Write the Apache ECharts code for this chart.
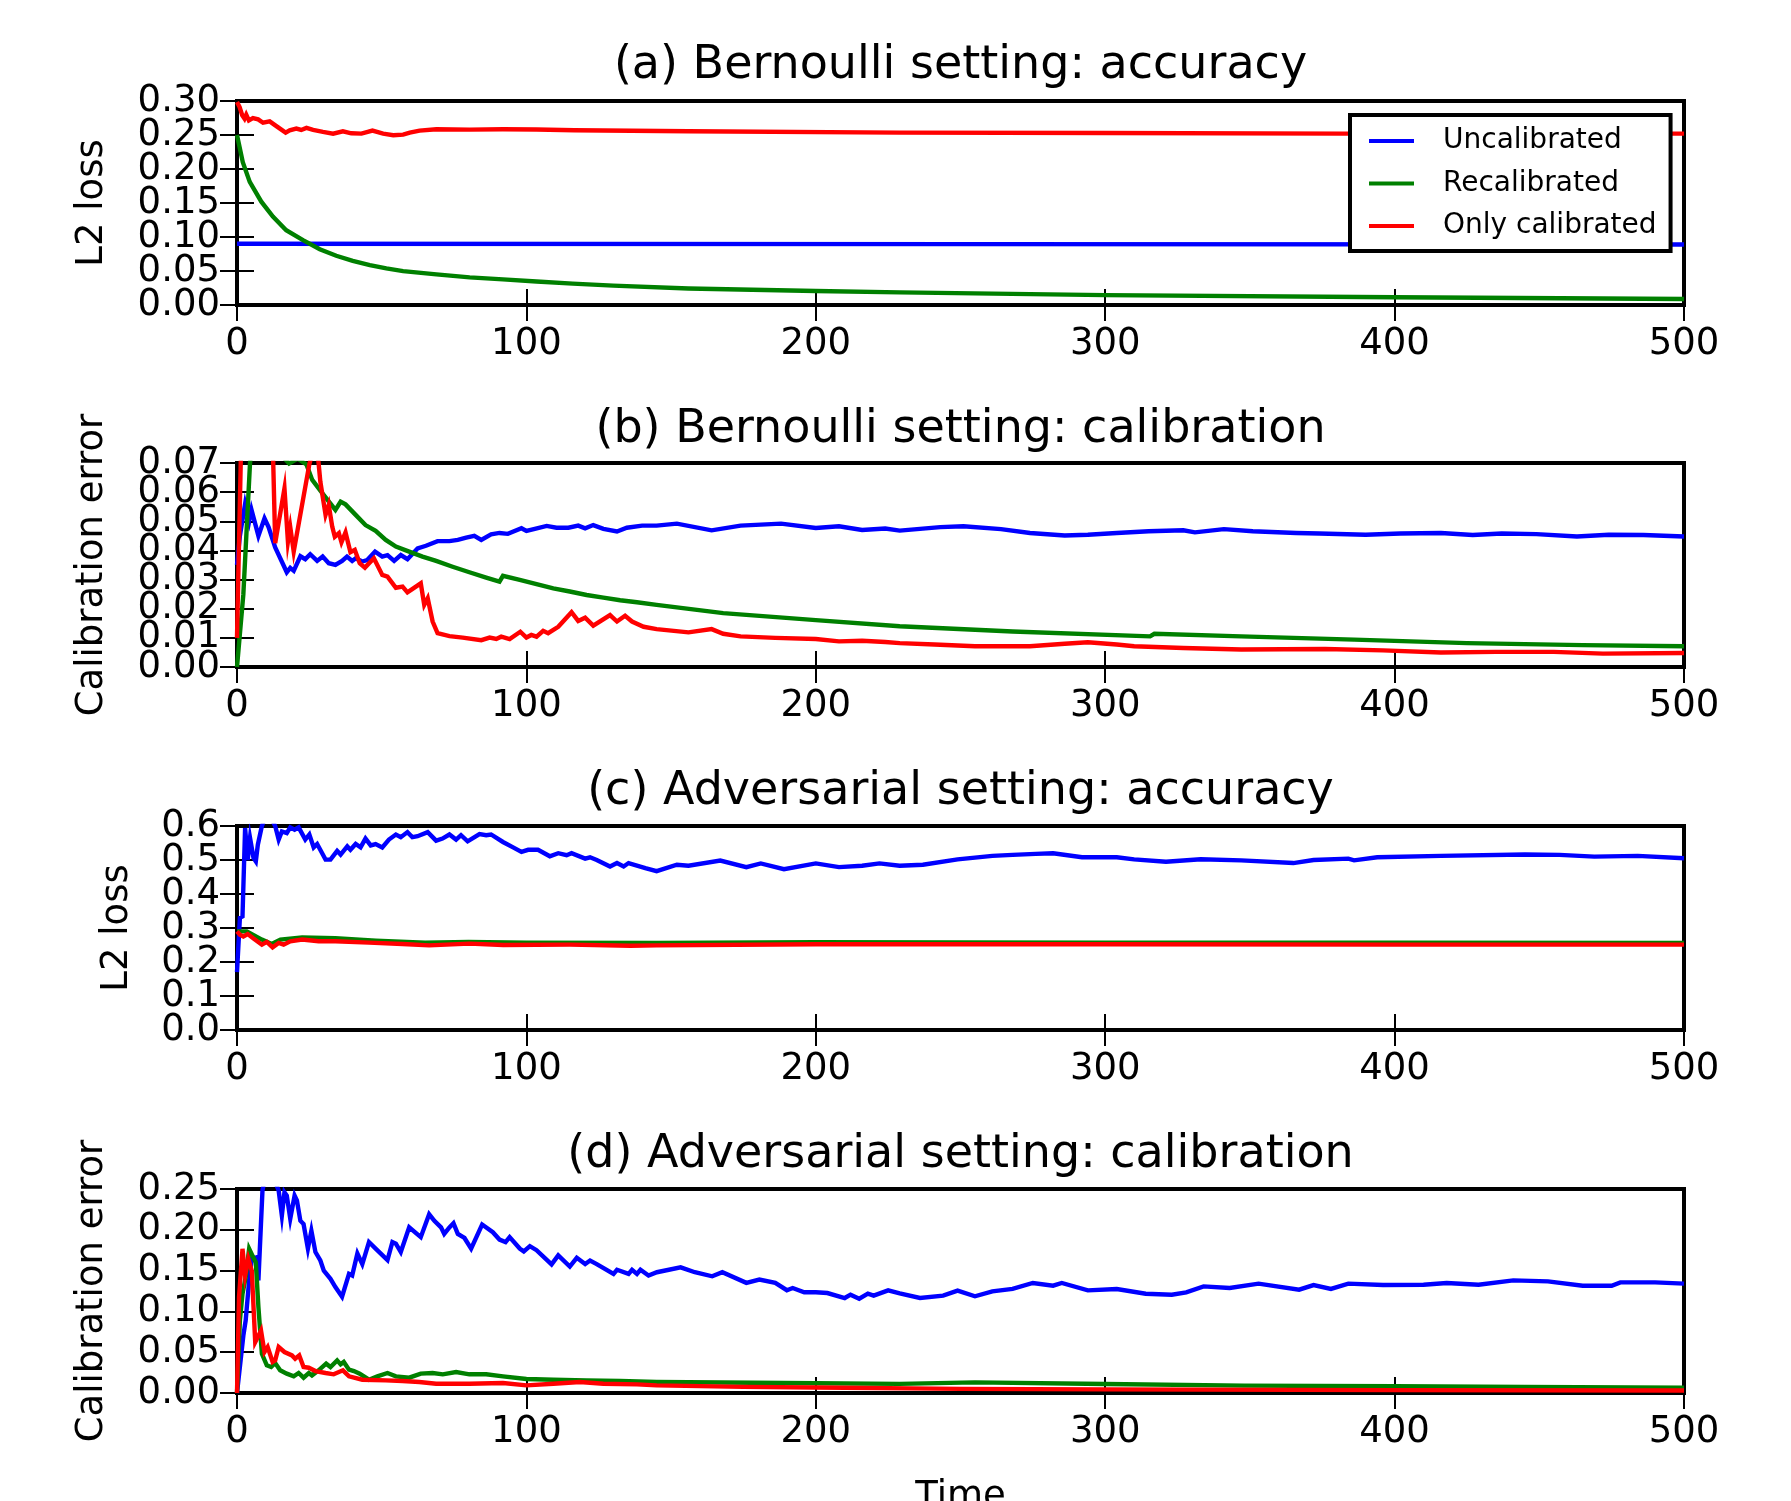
<!DOCTYPE html>
<html>
<head>
<meta charset="utf-8">
<script src="https://cdn.jsdelivr.net/npm/echarts@6/dist/echarts.min.js"></script>
<style>
  html, body { margin: 0; padding: 0; background: #fff; }
  #chart { width: 1791px; height: 1501px; }
</style>
</head>
<body>
<div id="chart"></div>
<script>
const FONT = 'DejaVu Sans'
const NAMES = ['Uncalibrated', 'Recalibrated', 'Only calibrated']
const COLORS = ['#0000ff', '#008000', '#ff0000']

const TITLES = [
  '(a) Bernoulli setting: accuracy',
  '(b) Bernoulli setting: calibration',
  '(c) Adversarial setting: accuracy',
  '(d) Adversarial setting: calibration',
]
const Y_NAMES = ['L2 loss', 'Calibration error', 'L2 loss', 'Calibration error']
const Y_MAX = [0.3, 0.07, 0.6, 0.25]
const Y_STEP = [0.05, 0.01, 0.1, 0.05]
const Y_DIGITS = [2, 2, 1, 2]
const X_MAX = 500
const X_STEP = 100

// (a) Bernoulli setting: accuracy  -- [time, L2 loss]
const bernAccUncal = [[0, 0.09], [250, 0.0895], [500, 0.089]]
const bernAccRecal = [
  [0, 0.25], [2, 0.21], [4.4, 0.181], [8.4, 0.152], [12.4, 0.13], [17, 0.11], [22.8, 0.0954],
  [28.6, 0.082], [34.3, 0.0724], [40, 0.065], [45.9, 0.0587], [51.6, 0.0538], [57.4, 0.0499],
  [68.9, 0.045], [80.4, 0.0406], [91.9, 0.0377], [103.5, 0.0345], [116, 0.0315], [130, 0.0285],
  [156, 0.0242], [200, 0.0206], [229, 0.0186], [300, 0.0145], [400, 0.0113], [500, 0.0088],
]
const bernAccOnly = [
  [0, 0.2985], [0.9, 0.291], [1.8, 0.279], [2.6, 0.274], [3.2, 0.28], [4.1, 0.2716], [5.5, 0.275],
  [7.3, 0.273], [9, 0.268], [11.3, 0.27], [13.6, 0.263], [16.8, 0.2535], [18.2, 0.257],
  [20.5, 0.2594], [22.2, 0.2574], [24, 0.2604], [26.3, 0.2574], [29.7, 0.2545], [33.2, 0.252],
  [36.6, 0.2555], [39.5, 0.2525], [43, 0.252], [46.8, 0.2564], [50.5, 0.252], [54, 0.2496],
  [57.4, 0.2505], [59.7, 0.2535], [63.1, 0.2564], [68.9, 0.2584], [80.4, 0.2579], [91.9, 0.2584],
  [103.5, 0.258], [116.6, 0.257], [156, 0.2555], [229, 0.2535], [300, 0.253], [382, 0.252],
  [500, 0.252],
]

// (b) Bernoulli setting: calibration  -- [time, calibration error]
const bernCalUncal = [
  [0, 0.035], [1, 0.045], [2.8, 0.056], [4.2, 0.05], [5, 0.054], [7.4, 0.045], [9.5, 0.051],
  [10.9, 0.048], [13.2, 0.041], [17.2, 0.0325], [18.4, 0.034], [19.6, 0.033], [21.9, 0.038],
  [23.6, 0.037], [25.3, 0.0387], [27.7, 0.0364], [29.6, 0.0379], [31.7, 0.0356], [34, 0.035],
  [36.3, 0.0364], [38, 0.0379], [39.8, 0.0364], [41, 0.0373], [43.3, 0.0362], [45, 0.0367],
  [47.7, 0.0396], [50.2, 0.0379], [52, 0.0384], [54.3, 0.0364], [56.6, 0.0384], [58.9, 0.037],
  [62.4, 0.0407], [65.3, 0.0416], [69.3, 0.0432], [73.4, 0.0432], [76.3, 0.0436], [79.2, 0.0444],
  [82, 0.045], [84.4, 0.0436], [87.8, 0.0455], [90.7, 0.046], [93.6, 0.0457], [98.3, 0.0476],
  [100, 0.0467], [102.9, 0.0474], [107, 0.0484], [110.4, 0.0478], [114.5, 0.0478], [117.9, 0.0485],
  [120.3, 0.0476], [123.1, 0.0487], [126.6, 0.0474], [131.3, 0.0465], [134.7, 0.0478], [140, 0.0485],
  [145, 0.0485], [152, 0.0492], [164, 0.0469], [174, 0.0485], [188, 0.0492], [200, 0.0477],
  [208, 0.0483], [216, 0.047], [224, 0.0475], [229, 0.0468], [243, 0.048], [251, 0.0483],
  [264, 0.0473], [274, 0.046], [286, 0.0451], [294, 0.0454], [304, 0.046], [315, 0.0466],
  [327, 0.0469], [331, 0.0462], [341, 0.0473], [351, 0.0466], [366, 0.046], [374, 0.0458],
  [390, 0.0454], [402, 0.0458], [416, 0.046], [427, 0.0453], [437, 0.0458], [449, 0.0456],
  [463, 0.0448], [474, 0.0454], [486, 0.0453], [500, 0.0448],
]
const bernCalRecal = [
  [0, 0], [0.5, 0], [2.2, 0.025], [4.5, 0.07], [7, 0.09], [12, 0.08], [16, 0.072], [18, 0.0698],
  [21, 0.0715], [24, 0.0695], [26, 0.0642], [30, 0.059], [34, 0.0539], [35.8, 0.0567],
  [37.5, 0.0558], [41, 0.0522], [44.4, 0.0487], [47.9, 0.0467], [51.4, 0.0436], [54.9, 0.0413],
  [59.5, 0.0396], [64.1, 0.0379], [68.8, 0.0364], [74.5, 0.0344], [80.3, 0.0325], [86.1, 0.0307],
  [90.7, 0.0293], [91.9, 0.0313], [97.7, 0.0299], [103.5, 0.0284], [109.3, 0.027], [115, 0.0259],
  [120.8, 0.0247], [126.6, 0.0238], [132.4, 0.0229], [138.2, 0.0222], [145, 0.0213], [168, 0.0185],
  [200, 0.0161], [229, 0.014], [268, 0.0122], [315.5, 0.0105], [317, 0.0114], [347, 0.0105],
  [386, 0.0094], [425, 0.0082], [465, 0.0075], [500, 0.0071],
]
const bernCalOnly = [
  [0, 0.01], [1.5, 0.08], [5, 0.1], [10, 0.09], [12.4, 0.075], [13.2, 0.0425], [16.4, 0.0613],
  [17.6, 0.043], [18.4, 0.048], [19.6, 0.0396], [25, 0.0696], [26.5, 0.075], [28, 0.072],
  [28.8, 0.0636], [30.6, 0.0522], [31.7, 0.0556], [32.9, 0.0482], [33.8, 0.0447], [35.2, 0.0459],
  [36.1, 0.0428], [37.5, 0.0462], [39.2, 0.0394], [40.7, 0.0402], [42.4, 0.0356], [44.2, 0.0341],
  [47.3, 0.0373], [50.2, 0.0316], [52, 0.031], [54.9, 0.0272], [57.2, 0.0276], [58.9, 0.0256],
  [63.5, 0.0287], [64.7, 0.0213], [65.9, 0.0236], [67.6, 0.0156], [69.3, 0.0116], [73.4, 0.0106],
  [78, 0.0101], [84.4, 0.0092], [87.3, 0.0101], [89.6, 0.0096], [91.3, 0.0104], [94.2, 0.0096],
  [97.9, 0.0121], [100, 0.0101], [101.7, 0.011], [103.5, 0.0104], [105.8, 0.0124], [107.5, 0.0116],
  [111, 0.0138], [115.6, 0.0188], [117.9, 0.0158], [120.3, 0.0169], [123.1, 0.0142], [128.9, 0.0178],
  [131.3, 0.0156], [134.1, 0.0176], [136.5, 0.0156], [140.5, 0.0138], [145, 0.013], [156, 0.0119],
  [164, 0.013], [168, 0.0114], [174, 0.0105], [186, 0.01], [200, 0.0096], [208, 0.0088],
  [216, 0.009], [224, 0.0086], [229, 0.0082], [241, 0.0077], [255, 0.0071], [274, 0.0071],
  [286, 0.008], [294, 0.0085], [304, 0.0077], [310, 0.0071], [327, 0.0065], [347, 0.006],
  [376, 0.0062], [396, 0.0057], [416, 0.005], [435, 0.0052], [455, 0.0052], [472, 0.0046],
  [500, 0.0048],
]

// (c) Adversarial setting: accuracy  -- [time, L2 loss]
const advAccUncal = [
  [0, 0.17], [1, 0.33], [1.9, 0.334], [2.8, 0.594], [3.7, 0.5], [4.5, 0.565], [5.7, 0.506],
  [6.5, 0.496], [7.2, 0.545], [8.6, 0.6], [10, 0.63], [12, 0.62], [13.2, 0.6], [14.4, 0.56],
  [15.5, 0.584], [17.2, 0.579], [18.4, 0.596], [19.9, 0.589], [21.3, 0.596], [23.6, 0.56],
  [25, 0.575], [26.5, 0.537], [27.7, 0.547], [30.6, 0.501], [32.3, 0.501], [34.6, 0.527],
  [35.8, 0.516], [38.1, 0.54], [39.2, 0.53], [41, 0.547], [42.7, 0.537], [44.4, 0.563],
  [46.2, 0.543], [47.9, 0.547], [50.2, 0.537], [52.5, 0.56], [54.9, 0.575], [56.6, 0.567],
  [58.9, 0.582], [60.6, 0.567], [62.4, 0.57], [65.9, 0.582], [68.8, 0.557], [71, 0.563],
  [73.4, 0.575], [75.7, 0.56], [77.4, 0.573], [79.7, 0.555], [83.8, 0.576], [86.1, 0.573],
  [87.8, 0.575], [91.9, 0.553], [95.4, 0.537], [98.3, 0.524], [100.6, 0.53], [104, 0.53],
  [108.1, 0.511], [111, 0.52], [113.9, 0.514], [115.6, 0.52], [120.3, 0.504], [122, 0.508],
  [124.3, 0.5], [128.9, 0.481], [131.3, 0.491], [133.6, 0.481], [135.3, 0.491], [141.1, 0.476],
  [145, 0.467], [152, 0.486], [156, 0.483], [167, 0.4985], [176, 0.479], [181, 0.49], [189, 0.473],
  [200, 0.49], [208, 0.479], [216, 0.483], [222, 0.49], [229, 0.483], [237, 0.486], [249, 0.502],
  [261, 0.512], [268, 0.515], [276, 0.518], [282, 0.52], [292, 0.508], [304, 0.508], [310, 0.502],
  [321, 0.495], [333, 0.502], [347, 0.499], [365, 0.491], [372, 0.5], [384, 0.504], [386, 0.499],
  [394, 0.508], [416, 0.512], [445, 0.516], [457, 0.515], [469, 0.51], [484, 0.512], [500, 0.505],
]
const advAccRecal = [
  [0, 0.29], [3.4, 0.29], [8.6, 0.266], [12, 0.253], [15, 0.266], [22.5, 0.2725], [34, 0.27],
  [48, 0.263], [65, 0.257], [80, 0.259], [100, 0.257], [145, 0.256], [200, 0.258], [300, 0.257],
  [400, 0.257], [500, 0.256],
]
const advAccOnly = [
  [0, 0.29], [1, 0.28], [2.2, 0.275], [3.7, 0.282], [5.7, 0.269], [8.6, 0.251], [10.3, 0.259],
  [12.3, 0.243], [14.4, 0.256], [16.1, 0.251], [18.4, 0.261], [22.5, 0.266], [28.2, 0.261],
  [34, 0.261], [45.6, 0.257], [57.2, 0.253], [66.4, 0.249], [80.3, 0.254], [92, 0.25], [115, 0.251],
  [136, 0.248], [145, 0.249], [200, 0.252], [300, 0.252], [400, 0.251], [500, 0.251],
]

// (d) Adversarial setting: calibration  -- [time, calibration error]
const advCalUncal = [
  [0, 0], [2.2, 0.0706], [3, 0.089], [4.2, 0.138], [5.1, 0.1645], [6.5, 0.166], [7.4, 0.138],
  [8.8, 0.248], [10, 0.27], [12, 0.27], [14.4, 0.248], [15.5, 0.2175], [16.4, 0.246], [17.2, 0.242],
  [18.4, 0.2135], [19.9, 0.242], [20.7, 0.236], [21.9, 0.211], [23, 0.207], [24.5, 0.177],
  [25.7, 0.199], [27.1, 0.1727], [28.8, 0.1624], [30, 0.15], [32.3, 0.14], [34, 0.1298],
  [36.3, 0.118], [38.7, 0.146], [39.8, 0.144], [41.6, 0.171], [43.3, 0.158], [45.6, 0.185],
  [47.9, 0.177], [52, 0.163], [53.7, 0.185], [54.9, 0.183], [56.6, 0.1727], [59.5, 0.203],
  [63.5, 0.191], [66.4, 0.219], [68.2, 0.211], [70.5, 0.203], [71.6, 0.195], [73.4, 0.203],
  [74.8, 0.208], [76.3, 0.195], [78.6, 0.19], [80.9, 0.177], [84.7, 0.2065], [88.4, 0.197],
  [90.7, 0.188], [92.8, 0.185], [94.2, 0.191], [97.7, 0.177], [99.1, 0.1735], [101.2, 0.18],
  [103.5, 0.175], [108.7, 0.1576], [111, 0.1686], [115, 0.155], [117.4, 0.1657], [120.3, 0.158],
  [122, 0.1624], [124.3, 0.158], [130.1, 0.146], [131.3, 0.151], [135.3, 0.146], [136.5, 0.151],
  [138.2, 0.146], [139.4, 0.151], [142.2, 0.144], [145.1, 0.148], [153.3, 0.154], [158.2, 0.148],
  [164.2, 0.143], [167.7, 0.148], [176, 0.135], [180.5, 0.139], [186, 0.135], [190, 0.126],
  [192, 0.1287], [196, 0.1234], [200, 0.1234], [204, 0.1225], [210, 0.1164], [212, 0.1205],
  [215, 0.1156], [218, 0.1217], [220, 0.1193], [225, 0.1258], [229, 0.122], [236, 0.1164],
  [244, 0.1193], [249, 0.1254], [255, 0.1185], [261, 0.1246], [268, 0.1275], [275, 0.1348],
  [282, 0.1315], [285, 0.1348], [294, 0.1258], [304, 0.1275], [314, 0.1217], [323, 0.1205],
  [328, 0.1234], [334, 0.1307], [343, 0.1287], [353, 0.134], [367, 0.1266], [372, 0.1323],
  [378, 0.1275], [384, 0.134], [396, 0.1323], [410, 0.1327], [418, 0.1348], [429, 0.1327],
  [441, 0.138], [453, 0.1368], [465, 0.1315], [475, 0.1315], [478, 0.1356], [490, 0.1356],
  [500, 0.134],
]
const advCalRecal = [
  [0, 0], [1, 0.089], [1.9, 0.1216], [3, 0.142], [4.2, 0.1767], [5.3, 0.1686], [6.5, 0.16],
  [7.4, 0.1053], [8.6, 0.048], [10.3, 0.0339], [11.8, 0.0318], [13.2, 0.0367], [14.9, 0.0278],
  [17.2, 0.0237], [19.6, 0.0204], [21.3, 0.0245], [23, 0.0188], [24.8, 0.0245], [25.9, 0.0216],
  [28.2, 0.0278], [30.8, 0.0359], [32.3, 0.0318], [34.6, 0.04], [35.8, 0.0351], [36.9, 0.038],
  [38.7, 0.0286], [40.4, 0.0269], [42.4, 0.0237], [45.6, 0.0163], [48.5, 0.0204], [52, 0.0245],
  [54.9, 0.0204], [59.5, 0.0188], [63.5, 0.0237], [67.6, 0.0245], [71.1, 0.0229], [75.7, 0.0257],
  [80.3, 0.0229], [86.1, 0.0229], [91.9, 0.0204], [100, 0.0171], [109.3, 0.0163], [120.8, 0.0155],
  [132.4, 0.0147], [145, 0.0135], [200, 0.012], [229, 0.0112], [255, 0.013], [300, 0.011],
  [348, 0.009], [400, 0.0082], [445, 0.0074], [500, 0.0065],
]
const advCalOnly = [
  [0, 0], [0.7, 0.1176], [1.9, 0.1767], [2.8, 0.144], [3.9, 0.1645], [5.1, 0.15], [6.3, 0.0624],
  [7.2, 0.0686], [8.3, 0.0767], [9.5, 0.0502], [10.6, 0.0563], [12.3, 0.038], [13.2, 0.04],
  [14.4, 0.0563], [16.4, 0.0502], [19, 0.0461], [20.1, 0.042], [21.5, 0.0461], [23, 0.0318],
  [24.8, 0.031], [27.1, 0.0269], [30.6, 0.0245], [33.4, 0.0229], [36.6, 0.0278], [38.7, 0.0204],
  [43.3, 0.0163], [51.4, 0.0155], [57.2, 0.0147], [63, 0.0135], [68.8, 0.0114], [80.3, 0.0114],
  [91.9, 0.0122], [100, 0.0094], [109.3, 0.0114], [118.5, 0.0135], [126.6, 0.0114], [138.2, 0.0106],
  [145, 0.0094], [175, 0.0075], [200, 0.0068], [250, 0.005], [300, 0.0045], [400, 0.0035],
  [500, 0.003],
]

const PANELS = [
  [bernAccUncal, bernAccRecal, bernAccOnly],
  [bernCalUncal, bernCalRecal, bernCalOnly],
  [advAccUncal, advAccRecal, advAccOnly],
  [advCalUncal, advCalRecal, advCalOnly],
]

// layout (px)
const GRID_LEFT = 237
const GRID_WIDTH = 1447
const GRID_HEIGHT = 204
const GRID_TOPS = [101, 463, 826, 1189]
const TITLE_TOPS = [43, 407, 769, 1132]
const Y_NAME_GAPS = [126, 126, 101, 126]

const chart = echarts.init(document.getElementById('chart'), null, { renderer: 'canvas' })

const tickStyle = { show: true, inside: true, lineStyle: { color: '#000', width: 2 } }
const labelFont = { fontFamily: FONT, fontSize: 37, color: '#000' }

const grid = [], xAxis = [], yAxis = [], series = [], title = []

PANELS.forEach((lines, i) => {
  grid.push({
    left: GRID_LEFT, top: GRID_TOPS[i], width: GRID_WIDTH, height: GRID_HEIGHT,
    containLabel: false, outerBoundsMode: 'none',
    show: true, borderColor: '#000', borderWidth: 4, backgroundColor: '#fff',
  })
  title.push({
    text: TITLES[i], left: GRID_LEFT + GRID_WIDTH / 2, top: TITLE_TOPS[i], textAlign: 'center',
    padding: 0,
    textStyle: { fontFamily: FONT, fontSize: 46, fontWeight: 'normal', color: '#000' },
  })
  const last = i === PANELS.length - 1
  const fmt = (v) => v.toFixed(Y_DIGITS[i])
  // bottom + top x axes
  xAxis.push({
    type: 'value', gridIndex: i, position: 'bottom', min: 0, max: X_MAX, interval: X_STEP,
    axisLine: { show: false }, splitLine: { show: false },
    axisTick: { ...tickStyle, length: 16 },
    axisLabel: { ...labelFont, margin: 21, showMinLabel: true, showMaxLabel: true, hideOverlap: false },
    name: last ? 'Time' : '', nameLocation: 'middle', nameGap: 86,
    nameTextStyle: { ...labelFont },
  })
  xAxis.push({
    type: 'value', gridIndex: i, position: 'top', min: 0, max: X_MAX, interval: X_STEP,
    axisLine: { show: false }, splitLine: { show: false },
    axisTick: { ...tickStyle, length: 16 }, axisLabel: { show: false },
  })
  // left y axis: ticks, inner labels and name
  yAxis.push({
    type: 'value', gridIndex: i, position: 'left', min: 0, max: Y_MAX[i], interval: Y_STEP[i],
    axisLine: { show: false }, splitLine: { show: false },
    axisTick: { ...tickStyle, length: 17 },
    axisLabel: {
      ...labelFont, margin: 17, showMinLabel: false, showMaxLabel: false, hideOverlap: false,
      formatter: fmt,
    },
    name: Y_NAMES[i], nameLocation: 'middle', nameRotate: 90, nameGap: Y_NAME_GAPS[i],
    nameTextStyle: { ...labelFont },
  })
  // right y axis: ticks only
  yAxis.push({
    type: 'value', gridIndex: i, position: 'right', min: 0, max: Y_MAX[i], interval: Y_STEP[i],
    axisLine: { show: false }, splitLine: { show: false },
    axisTick: { ...tickStyle, length: 17 }, axisLabel: { show: false },
  })
  // second left y axis: only the end labels (min / max), so the crowded
  // labels next to them are not dropped by the overlap check
  yAxis.push({
    type: 'value', gridIndex: i, position: 'left', offset: 0, min: 0, max: Y_MAX[i], interval: Y_MAX[i],
    axisLine: { show: false }, splitLine: { show: false }, axisTick: { show: false },
    axisLabel: {
      ...labelFont, margin: 17, showMinLabel: true, showMaxLabel: true, hideOverlap: false,
      formatter: fmt,
    },
  })
  lines.forEach((data, k) => {
    series.push({
      type: 'line', name: NAMES[k], data,
      xAxisIndex: i * 2, yAxisIndex: i * 3,
      showSymbol: false, symbol: 'none', clip: true, z: 2 + k,
      color: COLORS[k],
      itemStyle: { color: COLORS[k] },
      lineStyle: { color: COLORS[k], width: 4.4, join: 'miter' },
      emphasis: { disabled: true },
    })
  })
})

chart.setOption({
  animation: false,
  backgroundColor: '#fff',
  title,
  grid,
  xAxis,
  yAxis,
  series,
  legend: {
    data: NAMES, orient: 'vertical', left: 1350, top: 115, z: 20,
    icon: 'rect', itemWidth: 45, itemHeight: 4, itemGap: 14.5,
    padding: [12, 14, 11, 19],
    backgroundColor: '#fff', borderColor: '#000', borderWidth: 4, borderRadius: 0,
    selectedMode: false,
    textStyle: { fontFamily: FONT, fontSize: 28, color: '#000', lineHeight: 28, padding: [0, 0, 0, 24] },
  },
})
</script>
</body>
</html>
